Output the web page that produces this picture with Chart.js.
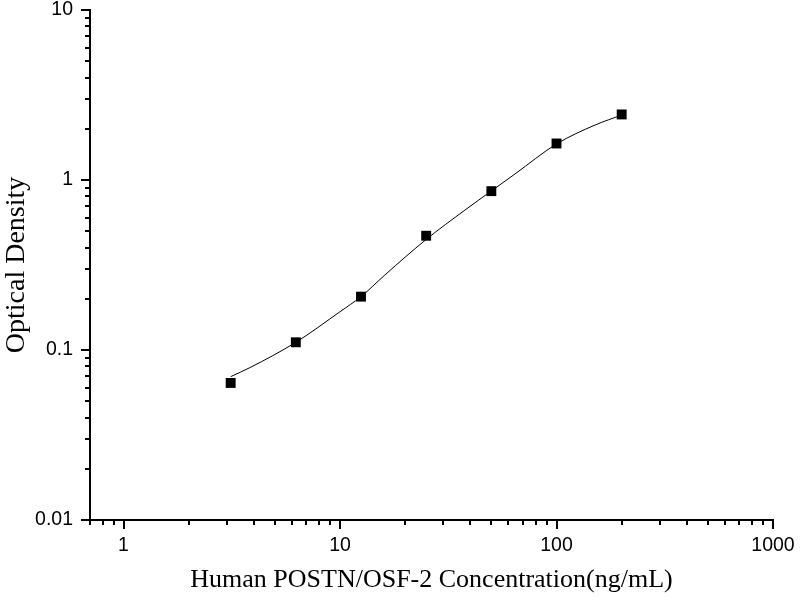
<!DOCTYPE html>
<html>
<head>
<meta charset="utf-8">
<script src="https://cdn.jsdelivr.net/npm/chart.js@4.4.0/dist/chart.umd.min.js"></script>
<style>
  html, body { margin: 0; padding: 0; background: #fff; }
  #wrap { width: 800px; height: 600px; }
</style>
</head>
<body>
<div id="wrap"><canvas id="curve"></canvas></div>
<script>
// standard curve readings
const concentrations = [3.125, 6.25, 12.5, 25, 50, 100, 200];
const densities = [0.064, 0.111, 0.206, 0.47, 0.86, 1.64, 2.43];

// fitted curve
const fitConcentrations = [3.125, 3.83, 6.25, 10, 12.5, 16.1, 25, 37.8, 50, 64.3, 100, 150.8, 200];
const fitDensities = [0.0697, 0.0787, 0.111, 0.168, 0.206, 0.276, 0.447, 0.666, 0.862, 1.085, 1.629, 2.106, 2.41];

const xMajorTicks = [1, 10, 100, 1000];
const yMajorTicks = [0.01, 0.1, 1, 10];

// minor tick values for a log axis between min and max
function logTicks(min, max) {
  const out = [];
  for (let d = Math.floor(Math.log10(min)); d <= Math.ceil(Math.log10(max)); d++) {
    for (let m = 1; m <= 9; m++) {
      const v = m * Math.pow(10, d);
      if (v >= min * 0.999 && v <= max * 1.001) out.push({ value: v, major: m === 1 });
    }
  }
  return out;
}

// draws outward tick marks, long on decades, short otherwise
const tickMarks = {
  id: "tickMarks",
  afterDraw(chart) {
    const ctx = chart.ctx;
    const xs = chart.scales.x;
    const ys = chart.scales.y;
    const area = chart.chartArea;
    ctx.save();
    ctx.strokeStyle = "#000";
    ctx.lineWidth = 2;
    ctx.beginPath();
    logTicks(xs.min, xs.max).forEach((t) => {
      const px = Math.round(xs.getPixelForValue(t.value));
      ctx.moveTo(px, area.bottom);
      ctx.lineTo(px, area.bottom + (t.major ? 9 : 5));
    });
    logTicks(ys.min, ys.max).forEach((t) => {
      const py = Math.round(ys.getPixelForValue(t.value));
      ctx.moveTo(area.left, py);
      ctx.lineTo(area.left - (t.major ? 9 : 5), py);
    });
    ctx.stroke();
    ctx.restore();
  },
};

const ctx = document.getElementById("curve").getContext("2d");
new Chart(ctx, {
  type: "scatter",
  data: {
    datasets: [
      {
        data: concentrations.map((c, i) => ({ x: c, y: densities[i] })),
        order: 0,
        pointStyle: "rect",
        pointRadius: 7,
        pointBackgroundColor: "#000",
        pointBorderColor: "#000",
        pointBorderWidth: 0,
      },
      {
        data: fitConcentrations.map((c, i) => ({ x: c, y: fitDensities[i] })),
        order: 1,
        showLine: true,
        cubicInterpolationMode: "monotone",
        borderColor: "#000",
        borderWidth: 1,
        pointRadius: 0,
      },
    ],
  },
  options: {
    responsive: true,
    maintainAspectRatio: false,
    animation: false,
    layout: { padding: { left: 0, right: 27, top: 10, bottom: 0 } },
    plugins: {
      legend: { display: false },
      tooltip: { enabled: false },
    },
    scales: {
      x: {
        type: "logarithmic",
        min: 0.7,
        max: 1000,
        afterBuildTicks: (scale) => {
          scale.ticks = xMajorTicks.map((v) => ({ value: v }));
        },
        afterFit: (scale) => {
          scale.height = 80;
          scale.paddingLeft = 0;
          scale.paddingRight = 0;
        },
        grid: { display: false, drawTicks: false },
        border: { display: true, color: "#000", width: 2 },
        ticks: {
          color: "#000",
          padding: 14,
          maxRotation: 0,
          font: { family: "Liberation Sans", size: 19.5 },
          callback: (v) => String(v),
        },
        title: {
          display: true,
          text: "Human POSTN/OSF-2 Concentration(ng/mL)",
          color: "#000",
          font: { family: "Liberation Serif", size: 26 },
          padding: { top: 0, bottom: 4 },
        },
      },
      y: {
        type: "logarithmic",
        min: 0.01,
        max: 10,
        afterBuildTicks: (scale) => {
          scale.ticks = yMajorTicks.map((v) => ({ value: v }));
        },
        afterFit: (scale) => {
          scale.width = 90;
          scale.paddingTop = 0;
          scale.paddingBottom = 0;
        },
        grid: { display: false, drawTicks: false },
        border: { display: true, color: "#000", width: 2 },
        ticks: {
          color: "#000",
          padding: 17,
          font: { family: "Liberation Sans", size: 19.5 },
          callback: (v) => String(v),
        },
        title: {
          display: true,
          text: "Optical Density",
          color: "#000",
          font: { family: "Liberation Serif", size: 28 },
          padding: { top: 0, bottom: 0 },
        },
      },
    },
  },
  plugins: [tickMarks],
});
</script>
</body>
</html>
